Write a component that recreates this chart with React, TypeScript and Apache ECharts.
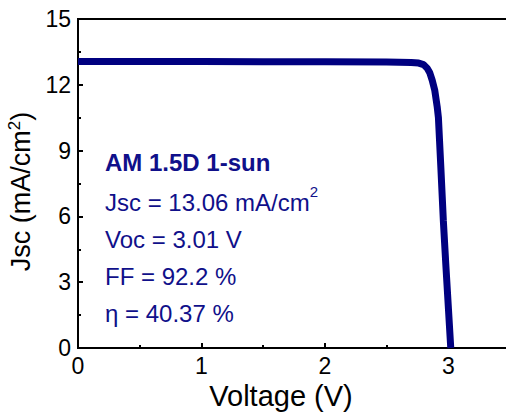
import React, { useEffect, useRef } from "react";
import * as echarts from "echarts";

const voltage = [0, 0.5, 1.0, 1.5, 2.0, 2.5, 2.7, 2.76, 2.8, 2.83, 2.85, 2.87, 2.89, 2.91, 2.92, 2.94, 2.96, 2.98, 3.0, 3.02];
const current = [13.06, 13.06, 13.06, 13.05, 13.05, 13.04, 13.02, 12.99, 12.92, 12.75, 12.55, 12.2, 11.76, 11.0, 10.5, 8.2, 5.8, 3.8, 1.9, 0];
const annotations = ["AM 1.5D 1-sun", "Jsc = 13.06 mA/cm", "Voc = 3.01 V", "FF = 92.2 %", "η = 40.37 %"];

const NAVY = "#000080";
const TEXT_NAVY = "#10108a";
const FONT = "Liberation Sans, Arial, sans-serif";

export default function App() {
  const ref = useRef<HTMLDivElement>(null);
  useEffect(() => {
    if (!ref.current) return;
    const chart = echarts.init(ref.current, null, { renderer: "svg" });
    const lineY = [162, 202, 239, 276, 313];
    const graphics: any[] = annotations.map((t, i) => {
      if (i === 1) {
        return {
          type: "text",
          left: 105,
          top: lineY[i] - 18,
          style: {
            text: "{a|" + t + "}{s|2}",
            rich: {
              a: { fontSize: 24, fontFamily: FONT, fill: TEXT_NAVY, lineHeight: 36 },
              s: { fontSize: 15, fontFamily: FONT, fill: TEXT_NAVY, lineHeight: 15, verticalAlign: "top" },
            },
          },
        };
      }
      return {
        type: "text",
        left: 105,
        top: lineY[i] - 12,
        style: {
          text: t,
          fontSize: 24,
          fontWeight: i === 0 ? "bold" : "normal",
          fontFamily: FONT,
          fill: TEXT_NAVY,
        },
      };
    });
    chart.setOption({
      animation: false,
      grid: {
        left: 78, top: 19, right: -4, bottom: 64,
        outerBoundsMode: "none", containLabel: false,
        show: true, borderColor: "#000", borderWidth: 2,
      },
      xAxis: {
        type: "value",
        min: 0,
        max: 3.5,
        interval: 1,
        name: "Voltage (V)",
        nameLocation: "middle",
        nameGap: 29,
        nameTextStyle: { fontSize: 29, fontFamily: FONT, color: "#000", padding: [0, 26, 0, 0] },
        axisLine: { lineStyle: { color: "#000", width: 2 } },
        axisTick: { inside: true, length: 5, lineStyle: { color: "#000", width: 2 } },
        minorTick: { show: true, splitNumber: 2, length: 3, lineStyle: { color: "#000", width: 2 } },
        splitLine: { show: false },
        axisLabel: { fontSize: 23, fontFamily: FONT, color: "#000", margin: 6, showMaxLabel: false },
      },
      yAxis: {
        type: "value",
        min: 0,
        max: 15,
        interval: 3,
        name: "{a|Jsc (mA/cm}{s|2}{a|)}",
        nameLocation: "middle",
        nameGap: 38,
        nameRotate: 90,
        nameTextStyle: {
          fontSize: 27,
          fontFamily: FONT,
          color: "#000",
          padding: [0, 16, 0, 0],
          rich: {
            a: { fontSize: 27, fontFamily: FONT, color: "#000", lineHeight: 30 },
            s: { fontSize: 17, fontFamily: FONT, color: "#000", lineHeight: 17, verticalAlign: "top" },
          },
        },
        axisLine: { lineStyle: { color: "#000", width: 2 } },
        axisTick: { inside: true, length: 5, lineStyle: { color: "#000", width: 2 } },
        minorTick: { show: true, splitNumber: 2, length: 3, lineStyle: { color: "#000", width: 2 } },
        splitLine: { show: false },
        axisLabel: { fontSize: 23, fontFamily: FONT, color: "#000", margin: 7 },
      },
      series: [
        {
          type: "line",
          data: voltage.map((v, i) => [v, current[i]]),
          showSymbol: false,
          lineStyle: { color: NAVY, width: 7 },
          itemStyle: { color: NAVY },
        },
      ],
      graphic: graphics,
    });
    return () => chart.dispose();
  }, []);
  return <div ref={ref} style={{ position: "fixed", left: 0, top: 0, width: 506, height: 412, background: "#fff" }} />;
}
